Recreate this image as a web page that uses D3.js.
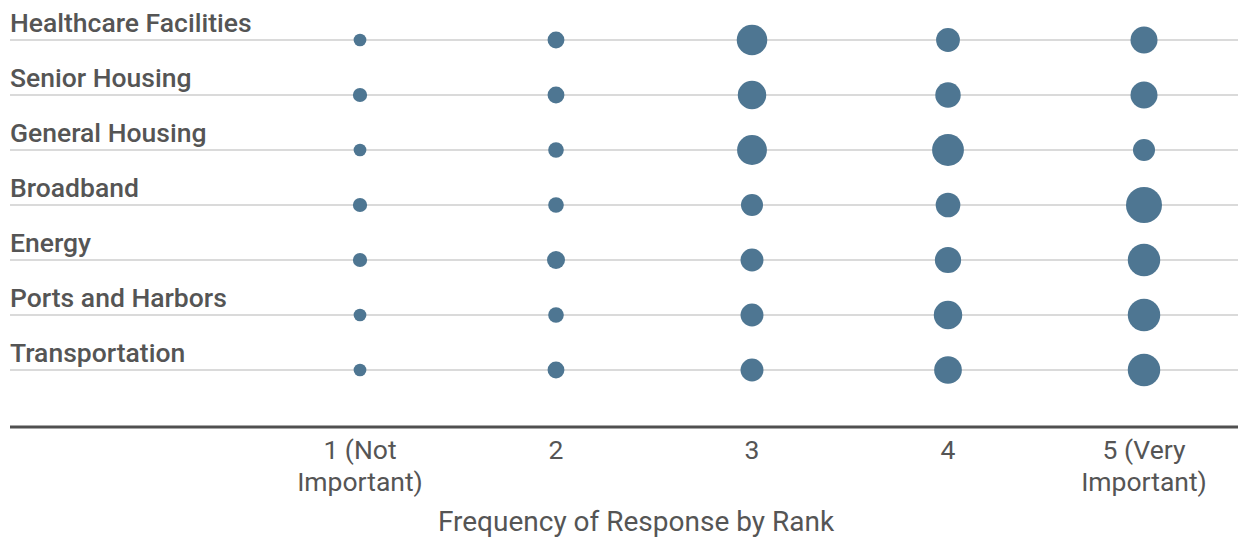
<!DOCTYPE html>
<html>
<head>
<meta charset="utf-8">
<script src="https://cdn.jsdelivr.net/npm/d3@7"></script>
<style>
  html, body { margin: 0; padding: 0; background: #fff; }
  svg { display: block; font-family: Roboto, "Noto Sans", sans-serif; }
</style>
</head>
<body>
<svg id="chart" width="1238" height="538"></svg>
<script>
// Data
const categories = ["Healthcare Facilities", "Senior Housing", "General Housing", "Broadband", "Energy", "Ports and Harbors", "Transportation"];
const ranks = ["1", "2", "3", "4", "5"];
const rankLabels = [["1 (Not", "Important)"], ["2"], ["3"], ["4"], ["5 (Very", "Important)"]];
// frequency of response per category, rank 1..5
const rank1 = [4, 5, 4, 5, 5, 4, 4];
const rank2 = [7, 7, 6, 6, 8, 6, 7];
const rank3 = [23, 20, 22, 12, 13, 13, 13];
const rank4 = [14, 16, 25, 15, 17, 20, 19];
const rank5 = [18, 18, 12, 32, 26, 26, 26];
const axisTitle = "Frequency of Response by Rank";

const seriesByRank = [rank1, rank2, rank3, rank4, rank5];

const svg = d3.select("#chart");
const W = 1238;

const x = d3.scalePoint().domain(ranks).range([360, 1144]);
const y = d3.scalePoint().domain(categories).range([40, 370]);
const r = d3.scaleSqrt().domain([0, 32]).range([0, 18]);

const textColor = "#555";

// row lines
svg.append("g").selectAll("line").data(categories).join("line")
  .attr("x1", 10).attr("x2", W)
  .attr("y1", d => y(d)).attr("y2", d => y(d))
  .attr("stroke", "#dadada").attr("stroke-width", 2);

// row labels
svg.append("g").selectAll("text").data(categories).join("text")
  .attr("x", 10).attr("y", d => y(d) - 8)
  .attr("fill", textColor)
  .attr("font-size", 26.5).attr("font-weight", 500)
  .text(d => d);

// dots
const dots = [];
categories.forEach((c, i) => {
  ranks.forEach((k, j) => dots.push({ cat: c, rank: k, v: seriesByRank[j][i] }));
});
svg.append("g").selectAll("circle").data(dots).join("circle")
  .attr("cx", d => x(d.rank)).attr("cy", d => y(d.cat))
  .attr("r", d => r(d.v))
  .attr("fill", "#4e7692");

// x axis
const axisY = 427;
svg.append("line").attr("x1", 10).attr("x2", W).attr("y1", axisY).attr("y2", axisY)
  .attr("stroke", "#505050").attr("stroke-width", 3);

const tickG = svg.append("g").selectAll("text").data(ranks).join("text")
  .attr("x", d => x(d)).attr("y", 459)
  .attr("text-anchor", "middle").attr("fill", textColor)
  .attr("font-size", 26.5);
tickG.each(function(d, i) {
  const t = d3.select(this);
  rankLabels[i].forEach((line, li) => {
    t.append("tspan").attr("x", x(d)).attr("dy", li === 0 ? 0 : 32).text(line);
  });
});

svg.append("text")
  .attr("x", (x("1") + x("5")) / 2 - 116).attr("y", 531)
  .attr("text-anchor", "middle").attr("fill", textColor)
  .attr("font-size", 28)
  .text(axisTitle);
</script>
</body>
</html>
